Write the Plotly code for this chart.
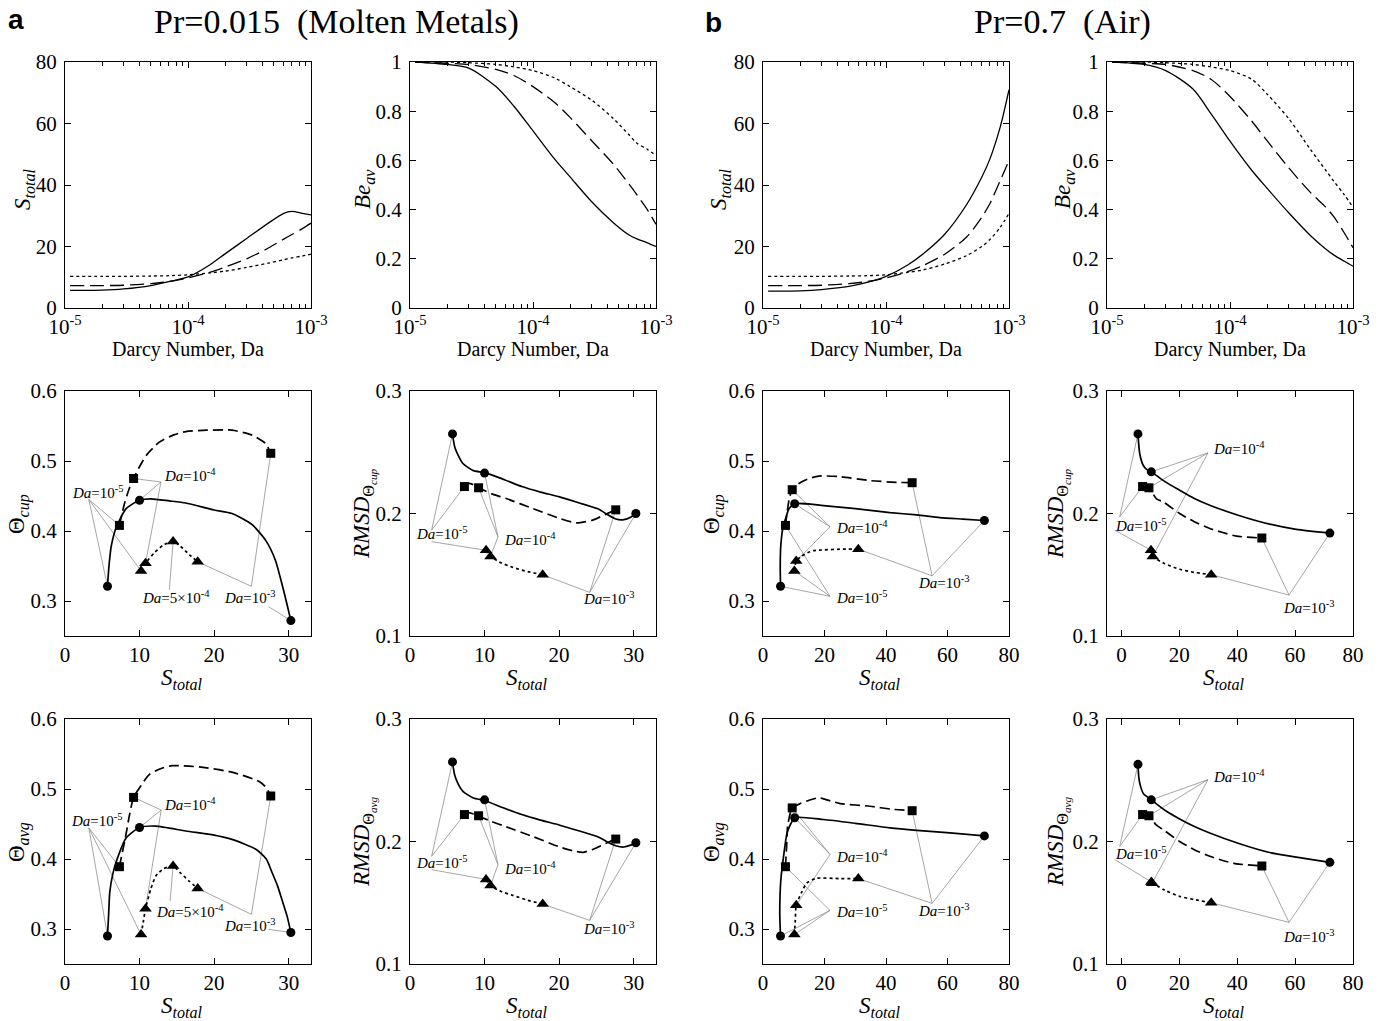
import plotly.graph_objects as go

W, H = 1384, 1021
SERIF = "Liberation Serif"
SANS = "Liberation Sans"

# ---------------- data: top row (vs Darcy number) ----------------
DA = [1.1e-5, 2e-5, 3e-5, 5e-5, 7e-5, 1e-4, 1.5e-4, 2e-4, 3e-4, 4.5e-4, 6e-4, 7e-4, 8.5e-4, 1e-3]

A_S_SOLID = [5.7, 5.8, 6.2, 7.3, 8.6, 10.1, 14.0, 17.6, 22.6, 27.6, 30.8, 31.4, 30.8, 30.3]
A_S_DASH = [7.3, 7.3, 7.4, 7.9, 8.6, 9.8, 11.6, 13.3, 16.0, 19.5, 22.4, 23.9, 25.8, 27.6]
A_S_DOT = [10.3, 10.3, 10.3, 10.4, 10.5, 10.8, 11.4, 12.0, 13.2, 14.6, 15.7, 16.3, 16.9, 17.5]

A_BE_SOLID = [1.0, 0.99, 0.975, 0.90, 0.82, 0.72, 0.605, 0.533, 0.432, 0.347, 0.298, 0.281, 0.265, 0.25]
A_BE_DASH = [1.0, 0.995, 0.99, 0.97, 0.945, 0.90, 0.835, 0.775, 0.68, 0.585, 0.505, 0.46, 0.40, 0.34]
A_BE_DOT = [1.0, 1.0, 0.997, 0.99, 0.98, 0.965, 0.935, 0.90, 0.845, 0.77, 0.705, 0.67, 0.645, 0.62]

B_S_SOLID = [5.5, 5.6, 6.0, 7.0, 8.3, 10.3, 14.0, 17.6, 24.0, 33.5, 42.5, 48.5, 59.0, 71.0]
B_S_DASH = [7.3, 7.3, 7.4, 7.9, 8.6, 9.8, 11.8, 13.8, 17.5, 23.0, 29.5, 34.0, 41.5, 48.0]
B_S_DOT = [10.3, 10.3, 10.3, 10.4, 10.5, 10.8, 11.6, 12.4, 14.3, 17.0, 20.0, 22.3, 26.3, 30.8]

B_BE_SOLID = [1.0, 0.99, 0.965, 0.89, 0.79, 0.678, 0.56, 0.487, 0.387, 0.295, 0.24, 0.215, 0.19, 0.17]
B_BE_DASH = [1.0, 0.995, 0.99, 0.965, 0.93, 0.86, 0.76, 0.68, 0.57, 0.47, 0.41, 0.37, 0.305, 0.245]
B_BE_DOT = [1.0, 1.0, 0.997, 0.99, 0.98, 0.965, 0.93, 0.87, 0.77, 0.645, 0.56, 0.515, 0.46, 0.41]

# ---------------- data: marker points (S_total positions) ----------------
A_CIRC_S = [5.7, 10.0, 30.3]
A_SQR_S = [7.3, 9.2, 27.6]
A_TRI_S_THETA = [10.2, 10.8, 14.5, 17.8]
A_TRI_S_RMSD = [10.2, 10.8, 17.8]

B_CIRC_S = [5.7, 10.3, 72.0]
B_SQR_S = [7.3, 9.5, 48.5]
B_TRI_S = [10.2, 10.8, 31.0]
B_TRI_S_RAVG = [10.3, 10.6, 31.0]

# marker values
A_CUP_CIRC = [0.321, 0.444, 0.272]
A_CUP_SQR = [0.408, 0.475, 0.511]
A_CUP_TRI = [0.343, 0.354, 0.385, 0.356]

A_RCUP_CIRC = [0.265, 0.233, 0.200]
A_RCUP_SQR = [0.222, 0.221, 0.203]
A_RCUP_TRI = [0.170, 0.165, 0.150]

A_AVG_CIRC = [0.290, 0.445, 0.295]
A_AVG_SQR = [0.389, 0.488, 0.490]
A_AVG_TRI = [0.292, 0.329, 0.390, 0.358]

A_RAVG_CIRC = [0.265, 0.234, 0.199]
A_RAVG_SQR = [0.222, 0.221, 0.202]
A_RAVG_TRI = [0.169, 0.164, 0.149]

B_CUP_CIRC = [0.321, 0.439, 0.415]
B_CUP_SQR = [0.408, 0.459, 0.469]
B_CUP_TRI = [0.343, 0.357, 0.374]

B_RCUP_CIRC = [0.265, 0.234, 0.184]
B_RCUP_SQR = [0.222, 0.221, 0.180]
B_RCUP_TRI = [0.170, 0.165, 0.150]

B_AVG_CIRC = [0.290, 0.459, 0.433]
B_AVG_SQR = [0.389, 0.473, 0.469]
B_AVG_TRI = [0.292, 0.334, 0.372]

B_RAVG_CIRC = [0.263, 0.234, 0.183]
B_RAVG_SQR = [0.222, 0.221, 0.180]
B_RAVG_TRI = [0.167, 0.166, 0.150]

# ---------------- data: curves ----------------
A_CUP_SOLID_S = [5.7, 5.9, 6.2, 6.9, 8.2, 10.0, 11.5, 14.0, 16.2, 20.0, 22.4, 25.1, 26.9, 28.2, 29.3, 30.3]
A_CUP_SOLID_Y = [0.321, 0.350, 0.378, 0.406, 0.432, 0.444, 0.446, 0.443, 0.440, 0.430, 0.425, 0.409, 0.387, 0.359, 0.316, 0.272]
A_CUP_DASH_S = [7.3, 8.0, 8.6, 9.2, 9.9, 10.9, 12.65, 14.5, 16.2, 19.0, 22.4, 25.1, 26.9, 27.6]
A_CUP_DASH_Y = [0.408, 0.440, 0.460, 0.475, 0.490, 0.508, 0.527, 0.537, 0.542, 0.544, 0.544, 0.537, 0.525, 0.511]
A_CUP_DOT_S = [10.2, 10.8, 12.0, 13.2, 14.5, 15.5, 16.7, 17.8]
A_CUP_DOT_Y = [0.343, 0.354, 0.369, 0.380, 0.385, 0.378, 0.366, 0.356]

A_RCUP_SOLID_S = [5.7, 6.0, 6.5, 7.1, 8.5, 10.0, 12.5, 15.0, 17.5, 20.06, 22.5, 25.4, 26.5, 27.6, 28.7, 29.6, 30.3]
A_RCUP_SOLID_Y = [0.265, 0.2543, 0.247, 0.2408, 0.235, 0.2334, 0.228, 0.222, 0.2175, 0.2136, 0.209, 0.2033, 0.199, 0.1955, 0.195, 0.197, 0.200]
A_RCUP_DASH_S = [7.3, 7.8, 8.5, 9.2, 11.0, 12.9, 16.5, 20.1, 22.3, 24.5, 26.3, 27.6]
A_RCUP_DASH_Y = [0.222, 0.2245, 0.2235, 0.221, 0.216, 0.2122, 0.204, 0.1959, 0.1924, 0.1946, 0.1995, 0.203]
A_RCUP_DOT_S = [10.2, 10.8, 12.3, 13.8, 15.8, 17.8]
A_RCUP_DOT_Y = [0.170, 0.165, 0.1595, 0.156, 0.1525, 0.150]

A_AVG_SOLID_S = [5.7, 5.85, 6.0, 6.4, 6.9, 8.2, 10.0, 12.2, 16.2, 20.0, 22.4, 25.6, 27.0, 27.8, 28.5, 29.1, 29.8, 30.3]
A_AVG_SOLID_Y = [0.290, 0.320, 0.352, 0.378, 0.397, 0.430, 0.445, 0.447, 0.440, 0.434, 0.428, 0.414, 0.400, 0.380, 0.362, 0.342, 0.318, 0.295]
A_AVG_DASH_S = [7.3, 7.7, 8.1, 8.6, 9.2, 10.2, 11.3, 12.8, 14.4, 18.0, 22.4, 26.0, 27.0, 27.6]
A_AVG_DASH_Y = [0.389, 0.410, 0.430, 0.460, 0.488, 0.505, 0.5206, 0.529, 0.5334, 0.5315, 0.524, 0.511, 0.502, 0.490]
A_AVG_DOT_S = [10.2, 10.5, 10.8, 11.5, 12.2, 13.2, 14.5, 15.5, 16.7, 17.8]
A_AVG_DOT_Y = [0.292, 0.310, 0.329, 0.357, 0.376, 0.386, 0.390, 0.380, 0.368, 0.358]

A_RAVG_SOLID_S = [5.7, 6.0, 6.5, 7.1, 8.5, 10.0, 12.5, 15.0, 17.5, 20.0, 22.5, 25.4, 26.5, 27.6, 28.7, 29.6, 30.3]
A_RAVG_SOLID_Y = [0.265, 0.254, 0.2465, 0.241, 0.2355, 0.2335, 0.2275, 0.222, 0.2175, 0.2135, 0.209, 0.2033, 0.1995, 0.1965, 0.1955, 0.197, 0.199]
A_RAVG_DASH_S = [7.3, 7.8, 8.5, 9.2, 11.0, 12.9, 16.5, 20.1, 22.3, 23.2, 24.5, 26.3, 27.6]
A_RAVG_DASH_Y = [0.222, 0.2235, 0.2225, 0.2208, 0.2162, 0.212, 0.204, 0.1955, 0.1918, 0.1912, 0.1935, 0.1985, 0.2023]
A_RAVG_DOT_S = [10.2, 10.8, 12.3, 13.8, 15.8, 17.8]
A_RAVG_DOT_Y = [0.169, 0.164, 0.159, 0.156, 0.152, 0.149]

B_CUP_SOLID_S = [5.7, 5.6, 5.8, 6.5, 7.5, 8.5, 10.3, 19.7, 30.0, 41.3, 50.0, 57.5, 65.0, 72.0]
B_CUP_SOLID_Y = [0.321, 0.350, 0.380, 0.405, 0.420, 0.432, 0.439, 0.4363, 0.432, 0.4263, 0.423, 0.4192, 0.417, 0.415]
B_CUP_DASH_S = [7.3, 7.8, 8.5, 9.5, 12.1, 15.0, 18.1, 25.1, 34.8, 43.5, 48.5]
B_CUP_DASH_Y = [0.408, 0.425, 0.445, 0.459, 0.469, 0.475, 0.4785, 0.4776, 0.472, 0.4695, 0.469]
B_CUP_DOT_S = [10.2, 10.8, 12.5, 14.5, 16.4, 20.0, 25.0, 31.0]
B_CUP_DOT_Y = [0.343, 0.357, 0.364, 0.369, 0.372, 0.373, 0.374, 0.374]

B_RCUP_SOLID_S = [5.7, 6.3, 7.5, 8.7, 10.3, 15.0, 20.1, 25.0, 30.5, 40.3, 51.2, 60.4, 72.0]
B_RCUP_SOLID_Y = [0.265, 0.249, 0.2394, 0.236, 0.234, 0.226, 0.219, 0.2125, 0.2068, 0.1986, 0.1913, 0.187, 0.184]
B_RCUP_DASH_S = [7.3, 8.2, 9.5, 12.1, 14.4, 20.1, 25.0, 30.5, 35.0, 39.7, 48.5]
B_RCUP_DASH_Y = [0.222, 0.2225, 0.221, 0.212, 0.2095, 0.200, 0.1935, 0.1878, 0.1845, 0.1815, 0.180]
B_RCUP_DOT_S = [10.2, 10.8, 15.0, 20.1, 25.0, 31.0]
B_RCUP_DOT_Y = [0.170, 0.165, 0.159, 0.1545, 0.152, 0.150]

B_AVG_SOLID_S = [5.7, 5.45, 5.8, 6.7, 7.8, 9.0, 10.3, 19.7, 30.0, 41.3, 50.0, 60.8, 72.0]
B_AVG_SOLID_Y = [0.290, 0.323, 0.370, 0.404, 0.437, 0.450, 0.459, 0.4564, 0.451, 0.4445, 0.441, 0.4374, 0.433]
B_AVG_DASH_S = [7.3, 7.7, 8.0, 8.9, 9.5, 12.0, 15.0, 18.1, 25.1, 34.8, 42.0, 48.5]
B_AVG_DASH_Y = [0.389, 0.420, 0.447, 0.466, 0.473, 0.479, 0.484, 0.4873, 0.4792, 0.4754, 0.471, 0.469]
B_AVG_DOT_S = [10.2, 10.5, 10.8, 12.5, 14.3, 17.5, 25.0, 31.0]
B_AVG_DOT_Y = [0.292, 0.312, 0.334, 0.352, 0.366, 0.3725, 0.372, 0.372]

B_RAVG_SOLID_S = [5.7, 6.0, 6.6, 7.6, 10.3, 15.0, 20.1, 25.0, 30.5, 40.3, 51.2, 60.4, 72.0]
B_RAVG_SOLID_Y = [0.263, 0.252, 0.245, 0.239, 0.234, 0.2255, 0.2184, 0.2125, 0.207, 0.1986, 0.191, 0.1873, 0.183]
B_RAVG_DASH_S = [7.3, 8.3, 9.5, 12.0, 14.4, 20.1, 25.0, 30.5, 35.0, 39.7, 48.5]
B_RAVG_DASH_Y = [0.222, 0.2215, 0.221, 0.2135, 0.2097, 0.200, 0.1935, 0.1879, 0.1845, 0.1818, 0.180]
B_RAVG_DOT_S = [10.45, 15.0, 20.1, 25.0, 31.0]
B_RAVG_DOT_Y = [0.1665, 0.1602, 0.1552, 0.1527, 0.150]

# ---------------- layout geometry (pixels) ----------------
COLS = [(65, 311), (410, 656), (763, 1009), (1107, 1353)]
ROWS = [(62, 308), (391, 636), (719, 964)]

fig = go.Figure()

AXBASE = dict(showline=True, linecolor="black", linewidth=1, mirror="ticks", ticks="inside",
              ticklen=6, tickwidth=1, tickcolor="black", showgrid=False, zeroline=False,
              automargin=False,
              tickfont=dict(family=SERIF, size=21, color="black"), fixedrange=True)


def names(k):
    s = "" if k == 1 else str(k)
    return "x" + s, "y" + s, "xaxis" + s, "yaxis" + s


def set_axes(k, r, c, xcfg, ycfg):
    xr, yr, xa, ya = names(k)
    L, R = COLS[c]
    T, B = ROWS[r]
    xd = dict(AXBASE, domain=[L / W, R / W], anchor=yr)
    xd.update(xcfg)
    yd = dict(AXBASE, domain=[1 - B / H, 1 - T / H], anchor=xr, ticklabelstandoff=3)
    yd.update(ycfg)
    fig.update_layout(**{xa: xd, ya: yd})
    return xr, yr


LINE = {"solid": dict(color="black", width=1.7),
        "dash": dict(color="black", width=1.7, dash="10px,5px"),
        "dot": dict(color="black", width=1.7, dash="3px,3px")}
LINE_TOP = {"solid": dict(color="black", width=1.3),
            "dash": dict(color="black", width=1.3, dash="14px,6px"),
            "dot": dict(color="black", width=1.3, dash="3px,3px")}

MINOR = [m * 10.0 ** e for e in (-5, -4) for m in range(2, 10)]

# ---- top row ----
top_panels = [
    (1, 0, 0, [A_S_SOLID, A_S_DASH, A_S_DOT], [0, 80], [0, 20, 40, 60, 80], None),
    (2, 0, 1, [A_BE_SOLID, A_BE_DASH, A_BE_DOT], [0, 1], [0, 0.2, 0.4, 0.6, 0.8, 1], ["0", "0.2", "0.4", "0.6", "0.8", "1"]),
    (3, 0, 2, [B_S_SOLID, B_S_DASH, B_S_DOT], [0, 80], [0, 20, 40, 60, 80], None),
    (4, 0, 3, [B_BE_SOLID, B_BE_DASH, B_BE_DOT], [0, 1], [0, 0.2, 0.4, 0.6, 0.8, 1], ["0", "0.2", "0.4", "0.6", "0.8", "1"]),
]
for k, r, c, ys, yrng, yt, ytt in top_panels:
    xcfg = dict(type="log", range=[-5, -3], tickvals=[1e-5, 1e-4, 1e-3],
                ticktext=["10<sup>-5</sup>", "10<sup>-4</sup>", "10<sup>-3</sup>"],
                minor=dict(ticks="inside", ticklen=4, tickcolor="black", tickvals=MINOR, showgrid=False))
    ycfg = dict(range=yrng, tickvals=yt)
    if ytt:
        ycfg["ticktext"] = ytt
    xr, yr = set_axes(k, r, c, xcfg, ycfg)
    for y, sty in zip(ys, ["solid", "dash", "dot"]):
        fig.add_trace(go.Scatter(x=DA, y=y, mode="lines", line=dict(LINE_TOP[sty], shape="spline", smoothing=0.8),
                                 xaxis=xr, yaxis=yr, showlegend=False, hoverinfo="skip"))

# ---- scatter panels ----
D5 = "<i>Da</i>=10<sup>-5</sup>"
D4 = "<i>Da</i>=10<sup>-4</sup>"
D3 = "<i>Da</i>=10<sup>-3</sup>"
D54 = "<i>Da</i>=5×10<sup>-4</sup>"

panels = [
    dict(k=5, r=1, c=0, circ=(A_CIRC_S, A_CUP_CIRC), sqr=(A_SQR_S, A_CUP_SQR), tri=(A_TRI_S_THETA, A_CUP_TRI),
         solid=(A_CUP_SOLID_S, A_CUP_SOLID_Y), dash=(A_CUP_DASH_S, A_CUP_DASH_Y), dot=(A_CUP_DOT_S, A_CUP_DOT_Y),
         xr=[0, 33], xt=[0, 10, 20, 30], yr=[0.25, 0.6], yt=[0.3, 0.4, 0.5, 0.6],
         labels=[(D5, 0.62, 0.456, [((3.2, 0.445), ["c0", "s0", "t0"])]),
                 (D4, 13.0, 0.480, [((12.87, 0.470), ["s1", "c1", "t1"])]),
                 (D54, 10.0, 0.306, [((14.0, 0.316), ["t2"])]),
                 (D3, 21.0, 0.306, [((25.0, 0.321), ["s2", "t3"]), ((27.3, 0.292), ["c2"])])]),
    dict(k=6, r=1, c=1, circ=(A_CIRC_S, A_RCUP_CIRC), sqr=(A_SQR_S, A_RCUP_SQR), tri=(A_TRI_S_RMSD, A_RCUP_TRI),
         solid=(A_RCUP_SOLID_S, A_RCUP_SOLID_Y), dash=(A_RCUP_DASH_S, A_RCUP_DASH_Y), dot=(A_RCUP_DOT_S, A_RCUP_DOT_Y),
         xr=[0, 33], xt=[0, 10, 20, 30], yr=[0.1, 0.3], yt=[0.1, 0.2, 0.3],
         labels=[(D5, 0.53, 0.1837, [((2.9, 0.1864), ["c0", "s0"]), ((2.9, 0.177), ["t0"])]),
                 (D4, 12.4, 0.179, [((11.8, 0.181), ["c1", "s1", "t1"])]),
                 (D3, 23.0, 0.1307, [((24.1, 0.1356), ["s2", "c2", "t2"])])]),
    dict(k=7, r=1, c=2, circ=(B_CIRC_S, B_CUP_CIRC), sqr=(B_SQR_S, B_CUP_SQR), tri=(B_TRI_S, B_CUP_TRI),
         solid=(B_CUP_SOLID_S, B_CUP_SOLID_Y), dash=(B_CUP_DASH_S, B_CUP_DASH_Y), dot=(B_CUP_DOT_S, B_CUP_DOT_Y),
         xr=[0, 80], xt=[0, 20, 40, 60, 80], yr=[0.25, 0.6], yt=[0.3, 0.4, 0.5, 0.6],
         labels=[(D4, 23.1, 0.4054, [((21.8, 0.406), ["s1", "c1", "t1"])]),
                 (D5, 23.1, 0.3057, [((21.8, 0.3067), ["c0", "s0", "t0"])]),
                 (D3, 49.9, 0.3266, [((55.0, 0.336), ["s2", "c2", "t2"])])]),
    dict(k=8, r=1, c=3, circ=(B_CIRC_S, B_RCUP_CIRC), sqr=(B_SQR_S, B_RCUP_SQR), tri=(B_TRI_S, B_RCUP_TRI),
         solid=(B_RCUP_SOLID_S, B_RCUP_SOLID_Y), dash=(B_RCUP_DASH_S, B_RCUP_DASH_Y), dot=(B_RCUP_DOT_S, B_RCUP_DOT_Y),
         xr=[-5, 80], xt=[0, 20, 40, 60, 80], yr=[0.1, 0.3], yt=[0.1, 0.2, 0.3],
         labels=[(D4, 31.1, 0.2538, [((29.9, 0.2495), ["c1", "s1", "t1"])]),
                 (D5, -3.1, 0.1905, [((-0.6, 0.1973), ["c0", "s0"]), ((-2.3, 0.1864), ["t0"])]),
                 (D3, 55.2, 0.1239, [((57.9, 0.1334), ["s2", "c2", "t2"])])]),
    dict(k=9, r=2, c=0, circ=(A_CIRC_S, A_AVG_CIRC), sqr=(A_SQR_S, A_AVG_SQR), tri=(A_TRI_S_THETA, A_AVG_TRI),
         solid=(A_AVG_SOLID_S, A_AVG_SOLID_Y), dash=(A_AVG_DASH_S, A_AVG_DASH_Y), dot=(A_AVG_DOT_S, A_AVG_DOT_Y),
         xr=[0, 33], xt=[0, 10, 20, 30], yr=[0.25, 0.6], yt=[0.3, 0.4, 0.5, 0.6],
         labels=[(D5, 0.53, 0.4564, [((3.2, 0.4445), ["c0", "s0", "t0"])]),
                 (D4, 13.0, 0.4792, [((12.9, 0.470), ["s1", "c1", "t1"])]),
                 (D54, 12.0, 0.3256, [((14.1, 0.340), ["t2"])]),
                 (D3, 21.0, 0.3052, [((25.0, 0.3209), ["s2", "t3"]), ((27.3, 0.2995), ["c2"])])]),
    dict(k=10, r=2, c=1, circ=(A_CIRC_S, A_RAVG_CIRC), sqr=(A_SQR_S, A_RAVG_SQR), tri=(A_TRI_S_RMSD, A_RAVG_TRI),
         solid=(A_RAVG_SOLID_S, A_RAVG_SOLID_Y), dash=(A_RAVG_DASH_S, A_RAVG_DASH_Y), dot=(A_RAVG_DOT_S, A_RAVG_DOT_Y),
         xr=[0, 33], xt=[0, 10, 20, 30], yr=[0.1, 0.3], yt=[0.1, 0.2, 0.3],
         labels=[(D5, 0.53, 0.183, [((2.9, 0.1879), ["c0", "s0"]), ((2.9, 0.177), ["t0"])]),
                 (D4, 12.4, 0.1784, [((11.8, 0.1811), ["c1", "s1", "t1"])]),
                 (D3, 23.0, 0.1294, [((24.1, 0.1356), ["s2", "c2", "t2"])])]),
    dict(k=11, r=2, c=2, circ=(B_CIRC_S, B_AVG_CIRC), sqr=(B_SQR_S, B_AVG_SQR), tri=(B_TRI_S, B_AVG_TRI),
         solid=(B_AVG_SOLID_S, B_AVG_SOLID_Y), dash=(B_AVG_DASH_S, B_AVG_DASH_Y), dot=(B_AVG_DOT_S, B_AVG_DOT_Y),
         xr=[0, 80], xt=[0, 20, 40, 60, 80], yr=[0.25, 0.6], yt=[0.3, 0.4, 0.5, 0.6],
         labels=[(D4, 23.1, 0.405, [((21.8, 0.4065), ["s1", "c1", "t1"])]),
                 (D5, 23.1, 0.3256, [((21.8, 0.3266), ["c0", "s0", "t0"])]),
                 (D3, 49.9, 0.327, [((55.0, 0.3366), ["s2", "c2", "t2"])])]),
    dict(k=12, r=2, c=3, circ=(B_CIRC_S, B_RAVG_CIRC), sqr=(B_SQR_S, B_RAVG_SQR), tri=(B_TRI_S_RAVG, B_RAVG_TRI),
         solid=(B_RAVG_SOLID_S, B_RAVG_SOLID_Y), dash=(B_RAVG_DASH_S, B_RAVG_DASH_Y), dot=(B_RAVG_DOT_S, B_RAVG_DOT_Y),
         xr=[-5, 80], xt=[0, 20, 40, 60, 80], yr=[0.1, 0.3], yt=[0.1, 0.2, 0.3],
         labels=[(D4, 31.1, 0.2537, [((29.9, 0.2505), ["c1", "s1", "t1"])]),
                 (D5, -3.1, 0.1906, [((-0.6, 0.196), ["c0", "s0"]), ((-2.3, 0.1852), ["t0"])]),
                 (D3, 55.2, 0.1226, [((57.9, 0.134), ["s2", "c2", "t2"])])]),
]

annotations = []
for p in panels:
    ytl = [("%g" % v) for v in p["yt"]]
    xr, yr = set_axes(p["k"], p["r"], p["c"], dict(range=p["xr"], tickvals=p["xt"]),
                      dict(range=p["yr"], tickvals=p["yt"], ticktext=ytl))
    series = {"c": p["circ"], "s": p["sqr"], "t": p["tri"]}
    lx, ly = [], []
    for text, tx, ty, hubs in p["labels"]:
        annotations.append(dict(x=tx, y=ty, xref=xr, yref=yr, text=text, showarrow=False,
                                xanchor="left", yanchor="middle",
                                font=dict(family=SERIF, size=15, color="black")))
        for (hx, hy), targets in hubs:
            for t in targets:
                sx, sy = series[t[0]]
                i = int(t[1:])
                lx += [hx, sx[i], None]
                ly += [hy, sy[i], None]
    fig.add_trace(go.Scatter(x=lx, y=ly, mode="lines", line=dict(color="#808080", width=0.7),
                             xaxis=xr, yaxis=yr, showlegend=False, hoverinfo="skip"))
    for key in ["solid", "dash", "dot"]:
        sx, sy = p[key]
        fig.add_trace(go.Scatter(x=sx, y=sy, mode="lines", line=dict(LINE[key], shape="spline", smoothing=0.6),
                                 xaxis=xr, yaxis=yr, showlegend=False, hoverinfo="skip"))
    for key, sym, sz in [("c", "circle", 9), ("s", "square", 9), ("t", "triangle-up", 11)]:
        sx, sy = series[key]
        fig.add_trace(go.Scatter(x=sx, y=sy, mode="markers", marker=dict(symbol=sym, size=sz, color="black"),
                                 xaxis=xr, yaxis=yr, showlegend=False, hoverinfo="skip", cliponaxis=False))


# ---------------- axis titles (as annotations) ----------------
def pa(px, py, text, size, angle=0, family=SERIF, xanchor="center"):
    annotations.append(dict(x=px / W, y=1 - py / H, xref="paper", yref="paper", text=text,
                            showarrow=False, textangle=angle, xanchor=xanchor, yanchor="middle",
                            font=dict(family=family, size=size, color="black")))


STOT = "<i>S</i><sub><i>total</i></sub>"
for c, (L, R) in enumerate(COLS):
    cx = (L + R) / 2
    pa(cx, 350, "Darcy Number, Da", 20)
    pa(cx - 6, 679, STOT, 23)
    pa(cx - 6, 1007, STOT, 23)

YT_TOP = [(24, STOT), (364, "<i>Be</i><sub><i>av</i></sub>"), (720, STOT), (1064, "<i>Be</i><sub><i>av</i></sub>")]
for x, t in YT_TOP:
    pa(x, 189, t, 23, angle=-90)
CUP = "Θ<sub><i>cup</i></sub>"
AVG = "Θ<sub><i>avg</i></sub>"
RCUP = "<i>RMSD</i><sub>Θ<sub><i>cup</i></sub></sub>"
RAVG = "<i>RMSD</i><sub>Θ<sub><i>avg</i></sub></sub>"
for x, t in [(18, CUP), (364, RCUP), (713, CUP), (1058, RCUP)]:
    pa(x, 514, t, 23, angle=-90)
for x, t in [(18, AVG), (364, RAVG), (713, AVG), (1058, RAVG)]:
    pa(x, 842, t, 23, angle=-90)

# ---------------- figure titles ----------------
pa(16, 20, "<b>a</b>", 28, family=SANS)
pa(713, 22, "<b>b</b>", 28, family=SANS)
pa(336, 22, "Pr=0.015\u00a0\u00a0(Molten Metals)", 34)
pa(1062, 22, "Pr=0.7\u00a0\u00a0(Air)", 34)

fig.update_layout(width=W, height=H, margin=dict(l=0, r=0, t=0, b=0, autoexpand=False),
                  paper_bgcolor="white", plot_bgcolor="white", showlegend=False,
                  annotations=annotations, font=dict(family=SERIF, color="black"))

fig.write_html("out.html", config={"displayModeBar": False, "staticPlot": True},
               post_script="document.body.style.margin='0';document.body.style.overflow='hidden';")
